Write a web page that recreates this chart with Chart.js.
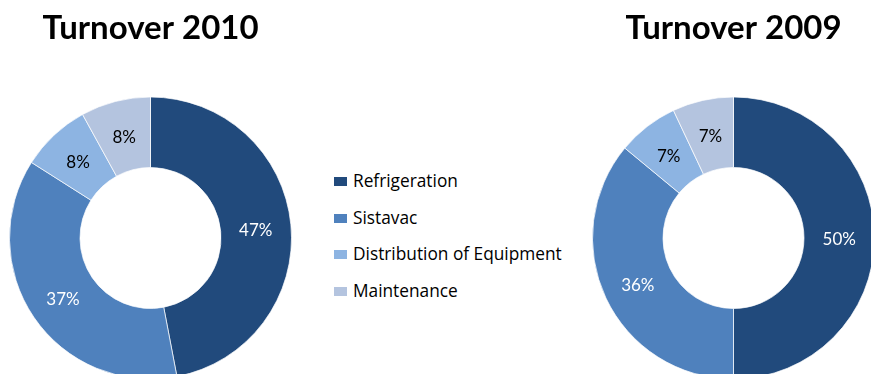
<!DOCTYPE html>
<html>
<head>
<meta charset="utf-8">
<script src="https://cdn.jsdelivr.net/npm/chart.js@4.4.1/dist/chart.umd.min.js"></script>
<style>
  html, body { margin: 0; padding: 0; background: #fff; }
  body { width: 871px; height: 374px; overflow: hidden; position: relative; }
  canvas { position: absolute; }
  #legend { position: absolute; left: 334px; top: 169px; font-family: "Open Sans", Lato, sans-serif; font-size: 17.3px; color: #000; }
  .item { position: relative; height: 36.7px; }
  .swatch { position: absolute; left: 0; top: 8px; width: 13px; height: 9px; }
  .txt { position: absolute; left: 19px; top: 0; line-height: 24px; white-space: nowrap; }
</style>
</head>
<body>
<canvas id="c2010" width="283" height="380" style="left:9px; top:0px;"></canvas>
<canvas id="c2009" width="283" height="380" style="left:592px; top:0px;"></canvas>
<div id="legend"></div>
<script>
// Business segments and their share of turnover (%)
const categories = ['Refrigeration', 'Sistavac', 'Distribution of Equipment', 'Maintenance'];
const turnover2010 = [47, 37, 8, 8];
const turnover2009 = [50, 36, 7, 7];
const segmentColors = ['#214A7C', '#4F81BD', '#8DB4E2', '#B4C4DF'];
const labelColors = ['#ffffff', '#ffffff', '#000000', '#000000'];

// Writes each percentage in the middle of its ring segment
const percentLabels = {
  id: 'percentLabels',
  afterDatasetsDraw(chart) {
    const ctx = chart.ctx;
    const meta = chart.getDatasetMeta(0);
    const values = chart.data.datasets[0].data;
    ctx.save();
    ctx.font = '17px Lato, "Liberation Sans", sans-serif';
    ctx.textAlign = 'center';
    ctx.textBaseline = 'middle';
    meta.data.forEach((arc, i) => {
      const p = arc.tooltipPosition();
      ctx.fillStyle = labelColors[i];
      ctx.fillText(values[i] + '%', p.x, p.y + 2);
    });
    ctx.restore();
  }
};

function makeRing(id, title, values) {
  return new Chart(document.getElementById(id), {
    type: 'doughnut',
    data: {
      labels: categories,
      datasets: [{
        data: values,
        backgroundColor: segmentColors,
        borderColor: 'rgba(255,255,255,0.7)',
        borderWidth: 1
      }]
    },
    options: {
      responsive: false,
      animation: false,
      cutout: '50%',
      layout: { padding: 0 },
      plugins: {
        legend: { display: false },
        tooltip: { enabled: false },
        title: {
          display: true,
          text: title,
          color: '#000',
          font: { family: 'Lato, "Liberation Sans", sans-serif', size: 33, weight: 'bold', lineHeight: 1.2 },
          padding: { top: 9, bottom: 47.4 }
        }
      }
    },
    plugins: [percentLabels]
  });
}

makeRing('c2010', 'Turnover 2010', turnover2010);
makeRing('c2009', 'Turnover 2009', turnover2009);

// Shared legend for both rings
const legend = document.getElementById('legend');
categories.forEach((name, i) => {
  const item = document.createElement('div');
  item.className = 'item';
  const sw = document.createElement('div');
  sw.className = 'swatch';
  sw.style.background = segmentColors[i];
  const tx = document.createElement('div');
  tx.className = 'txt';
  tx.textContent = name;
  item.appendChild(sw);
  item.appendChild(tx);
  legend.appendChild(item);
});
</script>
</body>
</html>
